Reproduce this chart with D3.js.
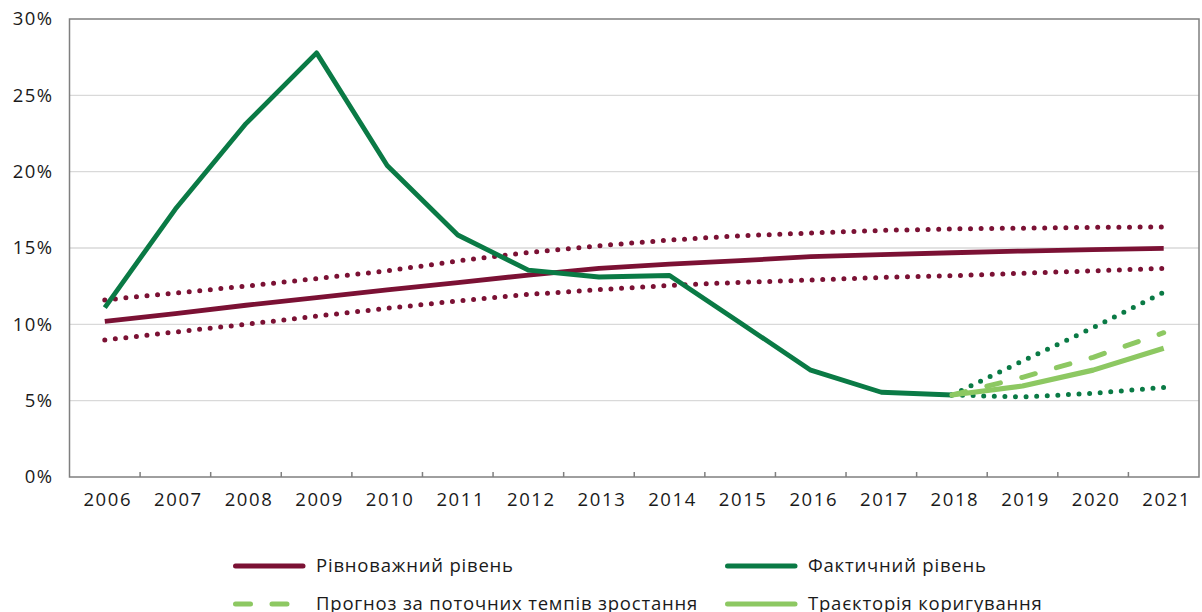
<!DOCTYPE html>
<html>
<head>
<meta charset="utf-8">
<script src="https://cdn.jsdelivr.net/npm/d3@7"></script>
<style>
  html, body { margin: 0; padding: 0; background: #fff; }
  svg { display: block; }
  text { font-family: "Open Sans", Lato, sans-serif; fill: #1a1a1a; }
</style>
</head>
<body>
<svg id="chart" width="1202" height="612"></svg>
<script>
// Years on the horizontal axis
const years = ["2006","2007","2008","2009","2010","2011","2012","2013","2014","2015","2016","2017","2018","2019","2020","2021"];
const forecastYears = ["2018","2019","2020","2021"];

// Equilibrium level and its band, %
const equilibrium = [10.2, 10.7, 11.25, 11.75, 12.25, 12.73, 13.23, 13.67, 13.95, 14.17, 14.43, 14.56, 14.69, 14.8, 14.9, 14.97];
const equilibriumUpper = [11.6, 12.05, 12.5, 13.0, 13.5, 14.15, 14.7, 15.15, 15.52, 15.8, 15.98, 16.15, 16.25, 16.3, 16.35, 16.38];
const equilibriumLower = [8.97, 9.5, 10.0, 10.54, 11.05, 11.53, 11.96, 12.27, 12.55, 12.75, 12.9, 13.07, 13.18, 13.35, 13.5, 13.67];

// Actual level, 2006–2018, %
const actual = [11.1, 17.55, 23.15, 27.78, 20.4, 15.85, 13.55, 13.1, 13.2, 10.1, 7.0, 5.55, 5.37];

// Forecasts from 2018, %
const forecastCurrentPace = [5.37, 6.53, 7.84, 9.45];
const correctionPath = [5.37, 5.96, 7.0, 8.43];
const forecastUpper = [5.37, 7.6, 9.78, 12.1];
const forecastLower = [5.37, 5.24, 5.48, 5.87];

const yTicks = [0, 5, 10, 15, 20, 25, 30];

const legendItems = [
  { label: "Рівноважний рівень", kind: "maroon" },
  { label: "Фактичний рівень", kind: "green" },
  { label: "Прогноз за поточних темпів зростання", kind: "dashed" },
  { label: "Траєкторія коригування", kind: "light" }
];

const colors = { maroon: "#7B1134", green: "#0A7A45", light: "#8DC862", axis: "#7f7f7f", grid: "#d9d9d9" };
const fontSize = 18.5;

const svg = d3.select("#chart");
const plot = { left: 69.5, right: 1199, top: 19, bottom: 477 };

const x = d3.scaleBand().domain(years).range([plot.left, plot.right]).padding(0);
const cx = d => x(d) + x.bandwidth() / 2;
const y = d3.scaleLinear().domain([0, 30]).range([plot.bottom, plot.top]);

// gridlines
svg.append("g")
  .selectAll("line")
  .data(yTicks.filter(t => t > 0 && t < 30))
  .join("line")
  .attr("x1", plot.left).attr("x2", plot.right)
  .attr("y1", d => y(d)).attr("y2", d => y(d))
  .attr("stroke", colors.grid).attr("stroke-width", 1.3);

// frame
svg.append("rect")
  .attr("x", plot.left).attr("y", plot.top)
  .attr("width", plot.right - plot.left).attr("height", plot.bottom - plot.top)
  .attr("fill", "none").attr("stroke", colors.axis).attr("stroke-width", 1.5);

// y axis labels
const yAxis = d3.axisLeft(y).tickValues(yTicks).tickSize(0).tickPadding(16).tickFormat(d => d + "%");
svg.append("g").attr("transform", `translate(${plot.left},0)`).call(yAxis)
  .call(g => g.select(".domain").remove())
  .selectAll("text")
  .attr("font-size", fontSize)
  .attr("letter-spacing", 1.4)
  .style("font-family", "'Open Sans', sans-serif")
  .attr("fill", "#1a1a1a");

// x axis: tick marks at category boundaries pointing inward
svg.append("g").attr("transform", `translate(0,${plot.bottom})`)
  .selectAll("line")
  .data(years.slice(1))
  .join("line")
  .attr("x1", d => x(d)).attr("x2", d => x(d))
  .attr("y1", 0).attr("y2", -5)
  .attr("stroke", colors.axis).attr("stroke-width", 1.5);

const xAxis = d3.axisBottom(x).tickSize(0).tickPadding(16);
svg.append("g").attr("transform", `translate(3,${plot.bottom})`).call(xAxis)
  .call(g => g.select(".domain").remove())
  .selectAll("text")
  .attr("font-size", fontSize)
  .attr("letter-spacing", 1.6)
  .style("font-family", "'Open Sans', sans-serif")
  .attr("fill", "#1a1a1a");

const line = d3.line().x(d => cx(d.year)).y(d => y(d.v));
const pair = (ys, vs) => vs.map((v, i) => ({ year: ys[i], v }));

function drawLine(ys, vs, color, width, dash) {
  const p = svg.append("path")
    .datum(pair(ys, vs))
    .attr("d", line)
    .attr("fill", "none")
    .attr("stroke", color)
    .attr("stroke-width", width)
    .attr("stroke-linejoin", "round")
    .attr("stroke-linecap", dash ? "round" : "butt");
  if (dash) p.attr("stroke-dasharray", dash);
  return p;
}

const dots = "0,10.6";

// equilibrium band and level
drawLine(years, equilibriumUpper, colors.maroon, 5, dots);
drawLine(years, equilibriumLower, colors.maroon, 5, dots);
drawLine(years, equilibrium, colors.maroon, 4.8);

// actual level
drawLine(years.slice(0, actual.length), actual, colors.green, 4.8);

// forecasts
drawLine(forecastYears, forecastUpper, colors.green, 5, dots);
drawLine(forecastYears, forecastLower, colors.green, 5, dots);
drawLine(forecastYears, forecastCurrentPace, colors.light, 5, "14,22");
drawLine(forecastYears, correctionPath, colors.light, 5.2);

// legend
const legendPos = [
  { x: 233, y: 566 }, { x: 725, y: 566 },
  { x: 233, y: 604 }, { x: 725, y: 604 }
];
const lg = svg.append("g").selectAll("g").data(legendItems).join("g")
  .attr("transform", (d, i) => `translate(${legendPos[i].x},${legendPos[i].y})`);

lg.append("line")
  .attr("x1", 2.5).attr("x2", 70).attr("y1", 0).attr("y2", 0)
  .attr("stroke", d => d.kind === "dashed" ? colors.light : colors[d.kind])
  .attr("stroke-width", 5)
  .attr("stroke-linecap", "round")
  .attr("stroke-dasharray", d => d.kind === "dashed" ? "15,21.5" : null);

lg.append("text")
  .attr("x", 83).attr("y", 0).attr("dy", "0.35em")
  .attr("font-size", fontSize)
  .attr("letter-spacing", 0.8)
  .text(d => d.label);
</script>
</body>
</html>
